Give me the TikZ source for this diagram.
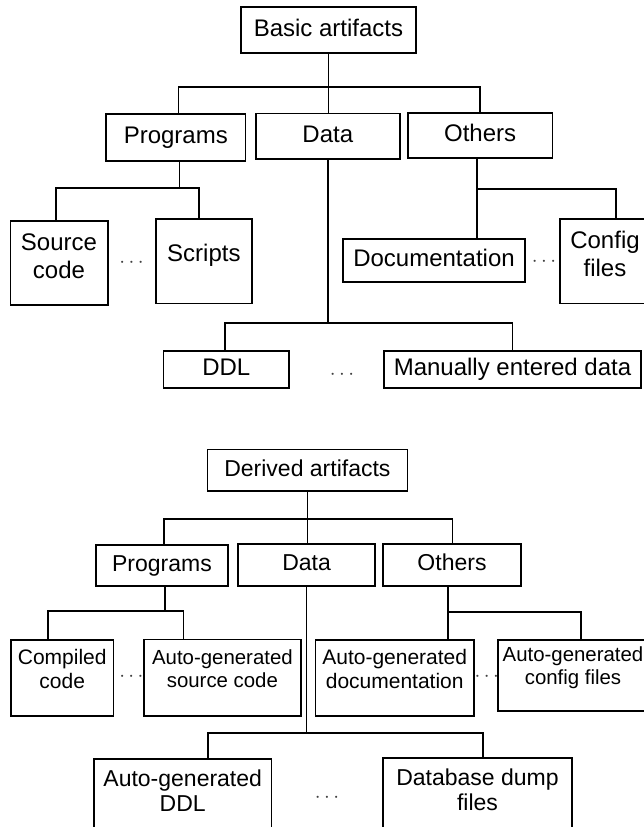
\documentclass[tikz,border=0pt]{standalone}
\usepackage{fontspec}
\setmainfont{Liberation Sans}
\begin{document}
\begin{tikzpicture}[x=1pt,y=-1pt,
  box/.style={draw=black, line width=1.7pt, inner sep=0pt, text height=17pt, text depth=5pt},
  ln/.style={line width=1.7pt},
  tA/.style={font=\fontsize{24}{28.3}\selectfont},
  tB/.style={font=\fontsize{23}{25}\selectfont},
  tC/.style={font=\fontsize{21}{23.3}\selectfont},
  tD/.style={font=\fontsize{20.4}{23.3}\selectfont},
  lbl/.style={align=center, inner sep=0pt},
  dotsn/.style={font=\fontsize{20}{20}\selectfont, inner sep=0pt, text=black!75}]
\useasboundingbox (0,0) rectangle (644,827);
\fill[white] (0,0) rectangle (644,827);
\clip (0,0) rectangle (644,827);

% ---------------- Basic artifacts ----------------
\node[box,tA,minimum width=175pt,minimum height=46pt] (basic) at (328.5,30.3) {Basic artifacts};
\node[box,tA,minimum width=139.6pt,minimum height=46.7pt] (prog) at (175.8,137.3) {Programs};
\node[box,tA,minimum width=143.8pt,minimum height=45.7pt] (data) at (327.8,136.2) {Data};
\node[box,tA,minimum width=144.6pt,minimum height=45pt] (oth) at (480.1,135.8) {Others};

\node[box,minimum width=97.3pt,minimum height=84pt,
  label={[lbl,tA,yshift=7pt]center:{Source\\code}}] (src) at (59,263) {};
\node[box,minimum width=95.7pt,minimum height=84.3pt,
  label={[lbl,tA,yshift=6pt]center:{Scripts}}] (scr) at (203.9,261.2) {};
\node[box,tA,minimum width=182pt,minimum height=42.4pt] (doc) at (434,260.5) {Documentation};
\node[box,minimum width=90pt,minimum height=84.3pt,
  label={[lbl,tA,yshift=7pt]center:{Config\\files}}] (cfg) at (605,261.2) {};
\node[box,tA,minimum width=125.5pt,minimum height=37.6pt] (ddl) at (226.3,369.5) {DDL};
\node[box,tA,minimum width=257pt,minimum height=37pt] (man) at (512.5,369.2) {Manually entered data};

\node[dotsn] (dA) at (131.5,263) {$\cdots$};
\node[dotsn] (dB) at (342,375) {$\cdots$};
\node[dotsn] (dC) at (544,261.5) {$\cdots$};

\coordinate (b1) at (178.6,87.3);
\coordinate (b2) at (479.7,87.3);
\draw[ln] (basic.south) -- (basic.south |- data.north);
\draw[ln] (prog.north -| b1) -- (b1) -- (b2) -- (oth.north -| b2);

\coordinate (ps) at (179.5,187.7);
\coordinate (p1) at (56.3,187.7);
\coordinate (p2) at (199.2,187.7);
\draw[ln] (prog.south -| ps) -- (ps);
\draw[ln] (src.north -| p1) -- (p1) -- (p2) -- (scr.north -| p2);

\coordinate (d1) at (225,322.7);
\coordinate (d2) at (512.5,322.7);
\draw[ln] (data.south) -- (data.south |- d1);
\draw[ln] (ddl.north -| d1) -- (d1) -- (d2) -- (man.north -| d2);

\coordinate (o1) at (477,189.3);
\coordinate (o2) at (616,189.3);
\draw[ln] (oth.south -| o1) -- (doc.north -| o1);
\draw[ln] (o1) -- (o2) -- (cfg.north -| o2);

% ---------------- Derived artifacts ----------------
\node[box,tB,minimum width=200pt,minimum height=41.7pt] (der) at (307.4,470.2) {Derived artifacts};
\node[box,tB,minimum width=132.6pt,minimum height=41pt] (prog2) at (162,565.5) {Programs};
\node[box,tB,minimum width=137.2pt,minimum height=41.7pt] (data2) at (306.6,564.9) {Data};
\node[box,tB,minimum width=137.5pt,minimum height=41.7pt] (oth2) at (452,564.9) {Others};

\node[box,minimum width=102.3pt,minimum height=76pt,
  label={[lbl,tC,yshift=9pt]center:{Compiled\\code}}] (cc) at (62.2,678) {};
\node[box,minimum width=157.3pt,minimum height=76.7pt,
  label={[lbl,tD,yshift=8.7pt]center:{Auto-generated\\source code}}] (sgc) at (222.4,677.7) {};
\node[box,minimum width=158.6pt,minimum height=76pt,
  label={[lbl,tC,yshift=9pt]center:{Auto-generated\\documentation}}] (agd) at (394.7,678) {};
\node[box,minimum width=150.6pt,minimum height=70.7pt,
  label={[lbl,tD,yshift=7.6pt]center:{Auto-generated\\config files}}] (agc) at (573,675.3) {};
\node[box,minimum width=177.3pt,minimum height=100.7pt,
  label={[lbl,tB,yshift=18.9pt]center:{Auto-generated\\DDL}}] (addl) at (182.7,809.65) {};
\node[box,minimum width=188.4pt,minimum height=100.7pt,
  label={[lbl,tB,yshift=18.9pt]center:{Database dump\\files}}] (dbd) at (477.5,808.65) {};

\node[dotsn] (dD) at (131.4,677) {$\cdots$};
\node[dotsn] (dE) at (486.7,677) {$\cdots$};
\node[dotsn] (dF) at (327,798) {$\cdots$};

\coordinate (e1) at (164.3,519.3);
\coordinate (e2) at (452.6,519.3);
\draw[ln] (der.south) -- (der.south |- data2.north);
\draw[ln] (prog2.north -| e1) -- (e1) -- (e2) -- (oth2.north -| e2);

\coordinate (qs) at (165,611);
\coordinate (q1) at (48,611);
\coordinate (q2) at (183.6,611);
\draw[ln] (prog2.south -| qs) -- (qs);
\draw[ln] (cc.north -| q1) -- (q1) -- (q2) -- (sgc.north -| q2);

\coordinate (f1) at (208.3,733.3);
\coordinate (f2) at (483.3,733.3);
\draw[ln] (data2.south) -- (data2.south |- f1);
\draw[ln] (addl.north -| f1) -- (f1) -- (f2) -- (dbd.north -| f2);

\coordinate (g1) at (448,612.3);
\coordinate (g2) at (581,612.3);
\draw[ln] (oth2.south -| g1) -- (agd.north -| g1);
\draw[ln] (g1) -- (g2) -- (agc.north -| g2);
\end{tikzpicture}
\end{document}
